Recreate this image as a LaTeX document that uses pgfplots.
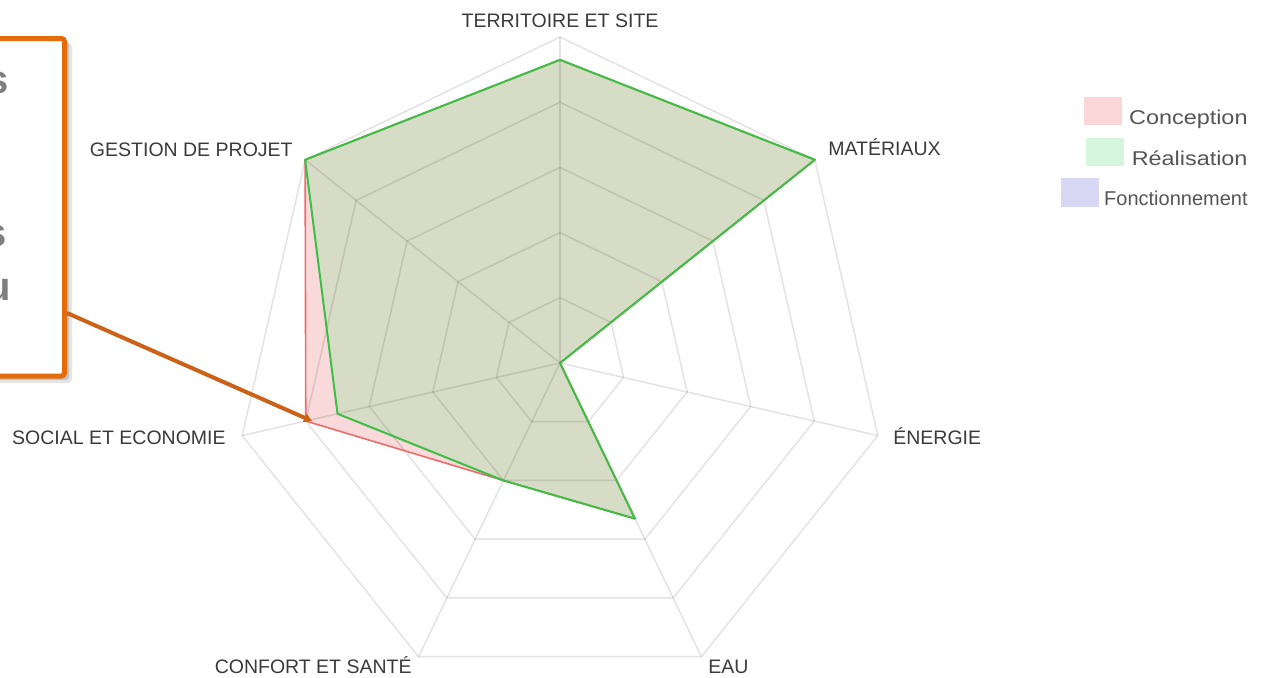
\documentclass[border=0pt]{standalone}
\usepackage{pgfplots}
\pgfplotsset{compat=1.18}
\usepackage{fontspec}
\setmainfont{Liberation Sans}
\usetikzlibrary{arrows.meta}
\definecolor{concfill}{HTML}{F9D9D9}
\definecolor{concline}{HTML}{EE6B6B}
\definecolor{realfill}{HTML}{D7DCC6}
\definecolor{realline}{HTML}{3DBE45}
\definecolor{leg1}{HTML}{F9D7D7}
\definecolor{leg2}{HTML}{D5F5DC}
\definecolor{leg3}{HTML}{D8D8F4}
\definecolor{labc}{HTML}{3A3A3A}
\definecolor{legc}{HTML}{555555}
\definecolor{boxc}{HTML}{E46C0A}
\definecolor{arrc}{HTML}{CC6218}
\definecolor{txtc}{HTML}{7F7F7F}
\begin{document}
\begin{tikzpicture}
\useasboundingbox (0,0) rectangle (641pt,338.5pt);
\begin{axis}[at={(0,0)}, anchor=south west, width=641pt, height=338.5pt,
  scale only axis, axis lines=none,
  xmin=-8.5890, xmax=11.0736, ymin=-4.8160, ymax=5.5675, clip=false]
% --- fills (Conception, Realisation)
\addplot[data cs=polar, draw=none, fill=concfill] coordinates {(90,4.65) (38.5714,5) (-12.8571,0) (-64.2857,2.65) (-115.7143,2) (-167.1429,4) (141.4286,5)} -- cycle;
\addplot[data cs=polar, draw=none, fill=realfill] coordinates {(90,4.65) (38.5714,5) (-12.8571,0) (-64.2857,2.65) (-115.7143,2) (-167.1429,3.5) (141.4286,5)} -- cycle;
% --- grid rings
\pgfplotsinvokeforeach{1,2,3,4,5}{
\addplot[data cs=polar, draw=black, draw opacity=0.11, line width=0.75pt] coordinates {(90,#1) (38.5714,#1) (-12.8571,#1) (-64.2857,#1) (-115.7143,#1) (-167.1429,#1) (141.4286,#1)} -- cycle;
}
% --- spokes
\pgfplotsinvokeforeach{90,38.5714,-12.8571,-64.2857,-115.7143,-167.1429,141.4286}{
\addplot[data cs=polar, draw=black, draw opacity=0.11, line width=0.75pt] coordinates {(#1,0) (#1,5)};
}
% --- series outlines
\addplot[data cs=polar, draw=concline, line width=0.8pt, line join=round] coordinates {(90,4.65) (38.5714,5) (-12.8571,0) (-64.2857,2.65) (-115.7143,2) (-167.1429,4) (141.4286,5)} -- cycle;
\addplot[data cs=polar, draw=realline, line width=1pt, line join=round] coordinates {(90,4.65) (38.5714,5) (-12.8571,0) (-64.2857,2.65) (-115.7143,2) (-167.1429,3.5) (141.4286,5)} -- cycle;
\end{axis}
\begin{scope}[yshift=338.5pt, x=0.5pt, y=-0.5pt]
  % axis labels
  \begin{scope}[every node/.style={inner sep=0pt, text=labc, font=\fontsize{9.75}{11}\selectfont}]
    \node[anchor=base] at (560,27) {TERRITOIRE ET SITE};
    \node[anchor=base west] at (828,155) {MATÉRIAUX};
    \node[anchor=base west] at (893,444) {ÉNERGIE};
    \node[anchor=base west] at (708,673) {EAU};
    \node[anchor=base east] at (412,673) {CONFORT ET SANTÉ};
    \node[anchor=base east] at (226,444) {SOCIAL ET ECONOMIE};
    \node[anchor=base east] at (293,156) {GESTION DE PROJET};
  \end{scope}
  % legend
  \fill[leg1] (1084,97) rectangle (1122,125);
  \fill[leg2] (1086,138) rectangle (1124,166);
  \fill[leg3] (1061,178) rectangle (1099,207);
  \begin{scope}[every node/.style={inner sep=0pt, text=legc, font=\fontsize{10}{12}\selectfont, anchor=base east}]
    \node[xscale=1.17] at (1248,124) {Conception};
    \node[xscale=1.17] at (1248,165) {Réalisation};
    \node at (1248,205) {Fonctionnement};
  \end{scope}
  % callout
  \begin{scope}
    \clip (0,0) rectangle (1282,677);
    \fill[black, opacity=0.10, rounded corners=2pt] (-60,43) rectangle (72,383);
    \fill[black, opacity=0.15, rounded corners=1.5pt] (-60,41) rectangle (69,380);
    \draw[boxc, line width=2.5pt, fill=white, rounded corners=1.5pt] (-60,38.5) rectangle (64.5,376);
    \begin{scope}[every node/.style={inner sep=0pt, text=txtc, font=\fontsize{20}{24}\selectfont\bfseries, anchor=base east}]
      \node at (9,93) {s};
      \node at (7,246) {s};
      \node at (11,300) {u};
    \end{scope}
    \draw[arrc, line width=2pt, -{Triangle[length=4pt,width=4.5pt]}] (67,313) -- (312,421);
  \end{scope}
\end{scope}
\end{tikzpicture}
\end{document}
